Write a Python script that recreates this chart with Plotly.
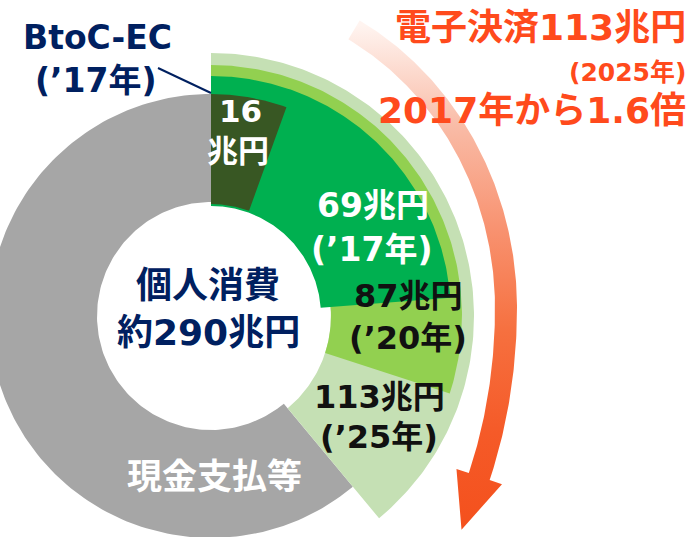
import numpy as np
import plotly.graph_objects as go

# ---------------- data ----------------
total_consumption = 290                      # 個人消費 約290兆円
segment_names = ["BtoC-EC('17年)", "電子決済('17年)", "電子決済('20年)", "電子決済('25年)"]
segment_values = [16, 69, 87, 113]           # 兆円
segment_value_labels = ["16", "69兆円", "87兆円", "113兆円"]
segment_year_labels = ["兆円", "(’17年)", "(’20年)", "(’25年)"]
cash_label = "現金支払等"
center_labels = ["個人消費", "約290兆円"]
title_lines = ["電子決済113兆円", "(2025年)", "2017年から1.6倍"]
btoc_label = ["BtoC-EC", "(’17年)"]

# ---------------- style ----------------
CX, CY = 211, 316
FONT = "DejaVu Sans, Noto Sans CJK JP"
NAVY = "#002060"
RED = "#FF4A1C"
# (inner radius, outer radius, colour) per segment
seg_style = [
    (112, 222, "#385723"),
    (110, 240, "#00B050"),
    (120, 251, "#92D050"),
    (120, 263, "#C5E0B4"),
]
cash_style = (114, 222, "#A6A6A6")


def to_deg(v):
    return v / total_consumption * 360.0


def wedge(th0, th1, r_in, r_out, n=160):
    t = np.radians(np.linspace(th0, th1, n))
    xo = CX + r_out * np.sin(t)
    yo = CY - r_out * np.cos(t)
    xi = CX + r_in * np.sin(t[::-1])
    yi = CY - r_in * np.cos(t[::-1])
    x = np.concatenate([xo, xi, xo[:1]])
    y = np.concatenate([yo, yi, yo[:1]])
    return x, y


fig = go.Figure()

# cash (remaining part of consumption)
cash_start = to_deg(segment_values[-1])
x, y = wedge(cash_start, 360, cash_style[0], cash_style[1])
fig.add_trace(go.Scatter(x=x, y=y, fill="toself", mode="lines", line=dict(width=0),
                         fillcolor=cash_style[2], hoverinfo="skip", name=cash_label))

# green segments, largest first
for i in reversed(range(len(segment_values))):
    r_in, r_out, col = seg_style[i]
    x, y = wedge(0, to_deg(segment_values[i]), r_in, r_out)
    fig.add_trace(go.Scatter(x=x, y=y, fill="toself", mode="lines", line=dict(width=0),
                             fillcolor=col, hoverinfo="skip", name=segment_names[i]))

# ---------------- curved gradient arrow ----------------
a, cxa, cya, b_top, b_bot = 295, 211, 308, 318, 405
t = np.linspace(np.radians(29), np.radians(114.6), 240)
b = np.where(t <= np.pi / 2, b_top, b_bot)
mx = cxa + a * np.sin(t)
my = cya - b * np.cos(t)
tx = a * np.cos(t)
ty = b * np.sin(t)
nrm = np.hypot(tx, ty)
tx, ty = tx / nrm, ty / nrm
nx, ny = ty, -tx
w = 11
ox, oy = mx + w * nx, my + w * ny
ix, iy = mx - w * nx, my - w * ny
P = np.array([mx[-1], my[-1]])
d = np.array([tx[-1], ty[-1]])
nv = np.array([nx[-1], ny[-1]])
c1 = P + 24 * nv
c2 = P - 24 * nv
tip = P + 56 * d
ax_ = np.concatenate([ox, [c1[0], tip[0], c2[0]], ix[::-1], ox[:1]])
ay_ = np.concatenate([oy, [c1[1], tip[1], c2[1]], iy[::-1], oy[:1]])
fig.add_trace(go.Scatter(
    x=ax_, y=ay_, fill="toself", mode="lines", line=dict(width=0),
    fillgradient=dict(type="vertical", start=25, stop=535,
                      colorscale=[[0, "#FFF4F0"], [0.2, "#F9BBA6"], [0.4, "#F89270"],
                                  [0.6, "#F6703F"], [0.8, "#F55A28"], [1, "#F4501C"]]),
    hoverinfo="skip", name="arrow"))

# ---------------- texts ----------------
ann = []


def txt(s, x, y, size, color, xanchor="center"):
    ann.append(dict(text=s, x=x, y=y, xref="x", yref="y", showarrow=False,
                    xanchor=xanchor, yanchor="middle",
                    font=dict(family=FONT, size=size, color=color, weight="bold")))


txt(btoc_label[0], 21, 37, 33, NAVY, "left")
txt(btoc_label[1], 33, 80, 33, NAVY, "left")
txt(segment_value_labels[0], 240, 111, 31, "white")
txt(segment_year_labels[0], 238, 151, 31, "white")
txt(segment_value_labels[1], 373, 205, 33, "white")
txt(segment_year_labels[1], 372, 249, 33, "white")
txt(segment_value_labels[2], 408, 296, 32, "#111111")
txt(segment_year_labels[2], 408, 338, 32, "#111111")
txt(segment_value_labels[3], 379, 397, 32, "#111111")
txt(segment_year_labels[3], 379, 437, 32, "#111111")
txt(center_labels[0], 208, 285, 36, NAVY)
txt(center_labels[1], 208, 332, 36, NAVY)
txt(cash_label, 214, 477, 35, "white")
txt(title_lines[0], 688, 27, 36, RED, "right")
txt(title_lines[1], 688, 72, 25, RED, "right")
txt(title_lines[2], 688, 110, 36, RED, "right")

fig.update_layout(
    width=693, height=537,
    margin=dict(l=0, r=0, t=0, b=0),
    paper_bgcolor="white", plot_bgcolor="white",
    showlegend=False,
    xaxis=dict(range=[0, 693], visible=False, fixedrange=True),
    yaxis=dict(range=[537, 0], visible=False, fixedrange=True),
    annotations=ann,
    shapes=[dict(type="line", xref="x", yref="y", x0=158, y0=68, x1=211, y1=93,
                 line=dict(color=NAVY, width=2))],
)

fig.write_html("out.html", config={"displayModeBar": False},
               post_script="document.body.style.margin='0';")
